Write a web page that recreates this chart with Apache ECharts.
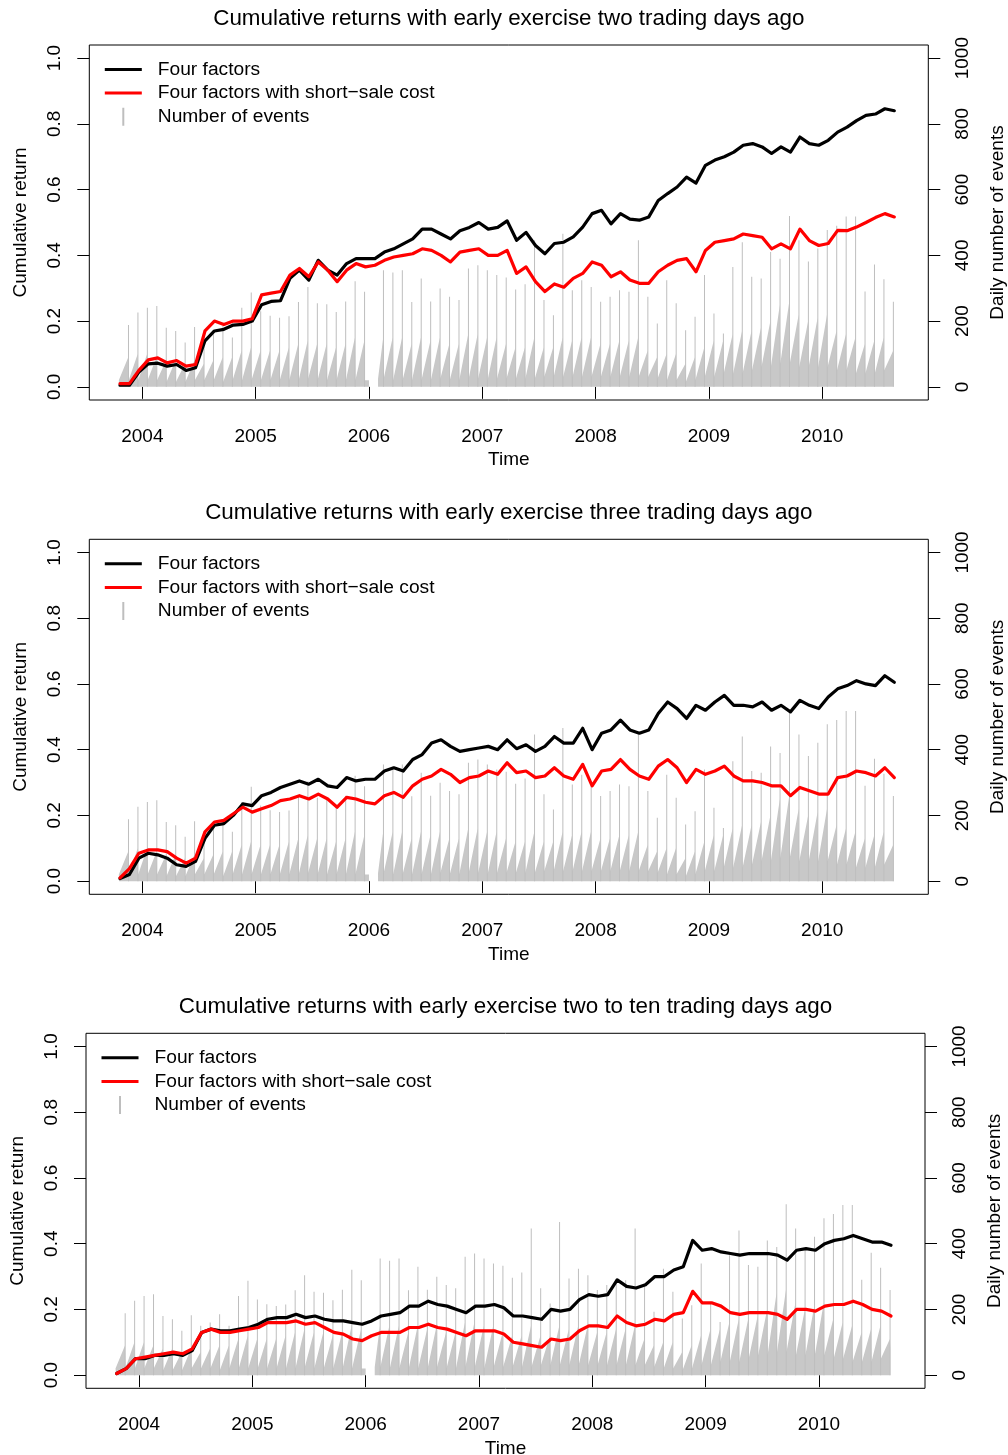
<!DOCTYPE html>
<html>
<head>
<meta charset="utf-8">
<title>Cumulative returns</title>
<script src="https://cdn.jsdelivr.net/npm/echarts@6.0.0/dist/echarts.min.js"></script>
<style>
  html, body { margin: 0; padding: 0; background: #fff; }
  #main { width: 1008px; height: 1455px; }
</style>
</head>
<body>
<div id="main"></div>
<script>
// one reading per month, Oct 2003 .. Aug 2010 (83 months)
var firstYear = 2003;
var firstMonth = 10;

var titles = [
  'Cumulative returns with early exercise two trading days ago',
  'Cumulative returns with early exercise three trading days ago',
  'Cumulative returns with early exercise two to ten trading days ago'
];

// "Four factors" / "with short-sale cost", early exercise two days ago
var fourTwo = [
  0.005, 0.005, 0.045, 0.07, 0.072, 0.063, 0.068, 0.05, 0.058, 0.14,
  0.17, 0.175, 0.188, 0.19, 0.2, 0.25, 0.26, 0.262, 0.33, 0.355,
  0.325, 0.385, 0.355, 0.34, 0.375, 0.39, 0.39, 0.39, 0.41, 0.42,
  0.435, 0.45, 0.48, 0.48, 0.465, 0.45, 0.475, 0.485, 0.5, 0.48,
  0.485, 0.505, 0.446, 0.47, 0.43, 0.405, 0.436, 0.44, 0.456, 0.486,
  0.527, 0.537, 0.496, 0.527, 0.51, 0.507, 0.517, 0.567, 0.588, 0.608,
  0.638, 0.62, 0.674, 0.69, 0.7, 0.714, 0.735, 0.74, 0.73, 0.71,
  0.73, 0.714, 0.76, 0.74, 0.735, 0.75, 0.775, 0.79, 0.81, 0.826,
  0.83, 0.846, 0.84
];
var costTwo = [
  0.01, 0.01, 0.05, 0.082, 0.088, 0.073, 0.08, 0.063, 0.068, 0.17,
  0.2, 0.19, 0.2, 0.2, 0.207, 0.28, 0.285, 0.29, 0.34, 0.36,
  0.335, 0.38, 0.355, 0.32, 0.355, 0.375, 0.365, 0.37, 0.385, 0.395,
  0.4, 0.405, 0.42, 0.415, 0.4, 0.38, 0.41, 0.415, 0.42, 0.4,
  0.4, 0.415, 0.345, 0.365, 0.32, 0.29, 0.313, 0.303, 0.33, 0.345,
  0.38, 0.37, 0.335, 0.35, 0.325, 0.315, 0.315, 0.35, 0.37, 0.385,
  0.39, 0.35, 0.415, 0.44, 0.445, 0.45, 0.465, 0.46, 0.455, 0.42,
  0.435, 0.42, 0.48, 0.445, 0.43, 0.436, 0.476, 0.475, 0.486, 0.5,
  0.515, 0.527, 0.517
];

// three days ago
var fourThree = [
  0.008, 0.02, 0.07, 0.085, 0.08, 0.07, 0.05, 0.045, 0.06, 0.13,
  0.17, 0.175, 0.2, 0.235, 0.23, 0.26, 0.27, 0.285, 0.295, 0.305,
  0.295, 0.31, 0.29, 0.285, 0.315, 0.305, 0.31, 0.31, 0.335, 0.345,
  0.335, 0.37, 0.385, 0.42, 0.43, 0.41, 0.395, 0.4, 0.405, 0.41,
  0.4, 0.43, 0.403, 0.415, 0.395, 0.41, 0.44, 0.42, 0.42, 0.465,
  0.4, 0.45, 0.46, 0.49, 0.46, 0.45, 0.46, 0.51, 0.545, 0.525,
  0.495, 0.535, 0.52, 0.545, 0.565, 0.535, 0.535, 0.53, 0.545, 0.52,
  0.535, 0.515, 0.55, 0.535, 0.525, 0.56, 0.585, 0.595, 0.61, 0.6,
  0.595, 0.625, 0.605
];
var costThree = [
  0.01, 0.038, 0.085, 0.095, 0.095, 0.09, 0.07, 0.055, 0.07, 0.15,
  0.18, 0.185, 0.205, 0.225, 0.21, 0.22, 0.23, 0.245, 0.25, 0.26,
  0.25, 0.265, 0.25, 0.225, 0.255, 0.25, 0.24, 0.235, 0.26, 0.27,
  0.255, 0.29, 0.31, 0.32, 0.34, 0.325, 0.3, 0.315, 0.32, 0.335,
  0.325, 0.36, 0.33, 0.335, 0.315, 0.32, 0.345, 0.32, 0.31, 0.355,
  0.29, 0.335, 0.34, 0.37, 0.34, 0.32, 0.31, 0.35, 0.37, 0.345,
  0.3, 0.34, 0.325, 0.335, 0.35, 0.32, 0.305, 0.305, 0.3, 0.29,
  0.29, 0.26, 0.285, 0.275, 0.265, 0.265, 0.315, 0.32, 0.335, 0.33,
  0.32, 0.345, 0.315
];

// two to ten days ago
var fourTen = [
  0.005, 0.02, 0.05, 0.05, 0.06, 0.06, 0.065, 0.06, 0.075, 0.13,
  0.14, 0.135, 0.135, 0.14, 0.145, 0.155, 0.17, 0.175, 0.175, 0.185,
  0.175, 0.18, 0.17, 0.165, 0.165, 0.16, 0.155, 0.165, 0.18, 0.185,
  0.19, 0.21, 0.21, 0.225, 0.215, 0.21, 0.2, 0.19, 0.21, 0.21,
  0.215, 0.205, 0.18, 0.18, 0.175, 0.17, 0.2, 0.195, 0.2, 0.23,
  0.245, 0.24, 0.245, 0.29, 0.27, 0.265, 0.275, 0.3, 0.3, 0.32,
  0.33, 0.41, 0.38, 0.385, 0.375, 0.37, 0.365, 0.37, 0.37, 0.37,
  0.365, 0.35, 0.38, 0.385, 0.38, 0.4, 0.41, 0.415, 0.425, 0.415,
  0.405, 0.405, 0.395
];
var costTen = [
  0.005, 0.02, 0.05, 0.055, 0.06, 0.065, 0.07, 0.065, 0.08, 0.13,
  0.14, 0.13, 0.13, 0.135, 0.14, 0.145, 0.16, 0.16, 0.16, 0.165,
  0.155, 0.16, 0.145, 0.13, 0.125, 0.11, 0.105, 0.12, 0.13, 0.13,
  0.13, 0.145, 0.145, 0.155, 0.145, 0.14, 0.13, 0.12, 0.135, 0.135,
  0.135, 0.125, 0.1, 0.095, 0.09, 0.085, 0.11, 0.105, 0.11, 0.135,
  0.15, 0.15, 0.145, 0.18, 0.16, 0.15, 0.155, 0.17, 0.165, 0.185,
  0.19, 0.255, 0.22, 0.22, 0.21, 0.19, 0.185, 0.19, 0.19, 0.19,
  0.185, 0.17, 0.2, 0.2, 0.195, 0.21, 0.215, 0.215, 0.225, 0.215,
  0.2, 0.195, 0.18
];

// daily number of events: monthly expiry spike, the level just before it, the level just after it
var eventPeak = [
  null, 188, 226, 241, 246, 180, 170, 135, 182, 150,
  160, 185, 150, 241, 287, 230, 216, 210, 215, 258,
  304, 254, 251, 228, 260, 321, 289, null, 355, 348,
  355, 258, 330, 260, 299, 274, 264, 360, 370, 355,
  340, 333, 296, 312, 446, 264, 218, 466, 294, 324,
  304, 259, 274, 294, 289, 446, 274, 193, 324, 254,
  172, 213, 340, 223, 162, 365, 440, 335, 330, 410,
  390, 520, 446, 381, 421, 477, 490, 518, 518, 290,
  372, 327, 259
];
var eventRamp = [
  20, 90, 100, 100, 90, 80, 80, 70, 80, 70,
  80, 90, 90, 110, 120, 110, 110, 110, 120, 130,
  140, 130, 130, 120, 130, 150, 140, null, 150, 150,
  150, 130, 150, 140, 150, 130, 130, 160, 160, 150,
  150, 130, 120, 120, 150, 120, 120, 150, 140, 150,
  150, 130, 130, 140, 140, 150, 110, 90, 100, 100,
  70, 90, 120, 140, 140, 160, 170, 170, 180, 200,
  250, 260, 220, 200, 210, 220, 170, 160, 150, 130,
  140, 150, 110
];
var eventBase = [
  20, 20, 20, 20, 20, 15, 15, 15, 20, 20,
  20, 15, 20, 20, 20, 20, 20, 20, 20, 20,
  25, 20, 20, 20, 20, 20, 20, 25, 25, 20,
  20, 20, 20, 20, 25, 20, 20, 25, 25, 20,
  25, 25, 25, 25, 25, 30, 30, 30, 30, 30,
  30, 30, 30, 30, 30, 30, 30, 25, 20, 20,
  15, 20, 30, 30, 40, 40, 40, 50, 60, 60,
  70, 70, 60, 60, 60, 60, 50, 50, 40, 40,
  40, 50, 80
];
var eventGap = [2006.0, 2006.08];

var yearTicks = [2004, 2005, 2006, 2007, 2008, 2009, 2010];
var returnTicks = [0, 0.2, 0.4, 0.6, 0.8, 1.0];
var countTicks = [0, 200, 400, 600, 800, 1000];

var FONT = 'Liberation Sans, Arial, Helvetica, sans-serif';
var FOUR = 'Four factors';
var COST = 'Four factors with short\u2212sale cost';
var EVENTS = 'Number of events';

function monthTime(i, day) {
  return firstYear + (firstMonth - 1 + i + (day - 1) / 30) / 12;
}

function lineData(values) {
  return values.map(function (v, i) { return [monthTime(i, 20), v]; });
}

var massData = [];
var spikeData = [];
for (var j = 0; j < eventPeak.length; j++) {
  var t = monthTime(j, 17);
  if (eventRamp[j] == null) {
    massData.push([eventGap[0], eventBase[j - 1]]);
    massData.push([(eventGap[0] + eventGap[1]) / 2, null]);
    massData.push([eventGap[1], eventBase[j]]);
  } else {
    massData.push([t - 0.002, eventRamp[j]]);
    massData.push([t + 0.002, eventBase[j]]);
  }
  if (eventPeak[j] != null) spikeData.push([t, eventPeak[j]]);
}

var panels = [
  { left: 89.3, top: 45, four: fourTwo, cost: costTwo },
  { left: 89.3, top: 539.3, four: fourThree, cost: costThree },
  { left: 86, top: 1033.3, four: fourTen, cost: costTen }
];
var boxW = 839, boxH = 355;

var lineIcon = 'path://M0,0L0.01,0Z M0,7.5L37,7.5L37,10.5L0,10.5Z M37,18L36.99,18Z';
var barIcon = 'path://M0,0L0.01,0Z M17.5,0L19.5,0L19.5,18L17.5,18Z M37,18L36.99,18Z';

var axisText = { fontSize: 19, color: '#000', fontFamily: FONT };
var tickStyle = { show: true, inside: false, length: 12, lineStyle: { color: '#000', width: 1 } };

var option = {
  animation: false,
  backgroundColor: '#fff',
  textStyle: { fontFamily: FONT },
  title: [],
  legend: [],
  grid: [],
  xAxis: [],
  yAxis: [],
  series: []
};

panels.forEach(function (p, k) {
  option.title.push({
    text: titles[k],
    left: p.left + boxW / 2,
    top: p.top - 37,
    textAlign: 'center',
    padding: 0,
    textStyle: { fontSize: 22.4, fontWeight: 'normal', color: '#000', fontFamily: FONT }
  });
  option.legend.push({
    orient: 'vertical',
    left: p.left + 15.5,
    top: p.top + 15,
    padding: 0,
    itemWidth: 37,
    itemHeight: 18,
    itemGap: 4.6,
    selectedMode: false,
    itemStyle: { borderWidth: 0 },
    textStyle: { fontSize: 19.2, lineHeight: 19, color: '#000', fontFamily: FONT, padding: [0, 0, 0, 11] },
    data: [
      { name: FOUR, icon: lineIcon },
      { name: COST, icon: lineIcon },
      { name: EVENTS, icon: barIcon }
    ]
  });
  option.grid.push({
    left: p.left, top: p.top, width: boxW, height: boxH,
    show: true, borderColor: '#000', borderWidth: 1,
    backgroundColor: 'rgba(0,0,0,0)', containLabel: false, outerBoundsMode: 'none'
  });
  option.xAxis.push({
    type: 'value', gridIndex: k, min: 2003.532, max: 2010.936,
    axisLine: { show: false }, splitLine: { show: false },
    axisTick: Object.assign({ customValues: yearTicks }, tickStyle),
    axisLabel: Object.assign({ customValues: yearTicks, margin: 27, formatter: function (v) { return String(v); } }, axisText),
    name: 'Time', nameLocation: 'middle', nameGap: 60,
    nameTextStyle: Object.assign({ verticalAlign: 'middle', align: 'center' }, axisText)
  });
  option.yAxis.push({
    type: 'value', gridIndex: k, position: 'left', min: -0.04, max: 1.04,
    axisLine: { show: false }, splitLine: { show: false },
    axisTick: Object.assign({ customValues: returnTicks }, tickStyle),
    axisLabel: Object.assign({
      customValues: returnTicks, rotate: 90, margin: 25, align: 'center', verticalAlign: 'bottom',
      formatter: function (v) { return v.toFixed(1); }
    }, axisText),
    name: 'Cumulative return', nameLocation: 'middle', nameRotate: 90, nameGap: 68.6,
    nameTextStyle: Object.assign({ verticalAlign: 'middle', align: 'center' }, axisText)
  });
  option.yAxis.push({
    type: 'value', gridIndex: k, position: 'right', min: -40, max: 1040,
    axisLine: { show: false }, splitLine: { show: false },
    axisTick: Object.assign({ customValues: countTicks }, tickStyle),
    axisLabel: Object.assign({
      customValues: countTicks, rotate: 90, margin: 25, align: 'center', verticalAlign: 'top',
      formatter: function (v) { return String(v); }
    }, axisText),
    name: 'Daily number of events', nameLocation: 'middle', nameRotate: 90, nameGap: 69.4,
    nameTextStyle: Object.assign({ verticalAlign: 'middle', align: 'center' }, axisText)
  });

  option.series.push({
    name: EVENTS, type: 'line', xAxisIndex: k, yAxisIndex: 2 * k + 1,
    data: massData, symbol: 'none', silent: true, z: 1,
    itemStyle: { color: '#bebebe' },
    lineStyle: { width: 0, opacity: 0 },
    areaStyle: { color: '#c8c8c8', opacity: 1 }
  });
  option.series.push({
    name: EVENTS, type: 'bar', xAxisIndex: k, yAxisIndex: 2 * k + 1,
    data: spikeData, barWidth: 1, silent: true, z: 1,
    itemStyle: { color: '#bebebe' }
  });
  option.series.push({
    name: FOUR, type: 'line', xAxisIndex: k, yAxisIndex: 2 * k,
    data: lineData(p.four), symbol: 'none', silent: true, z: 3,
    itemStyle: { color: '#000000' },
    lineStyle: { color: '#000000', width: 3.2, join: 'round', cap: 'round' }
  });
  option.series.push({
    name: COST, type: 'line', xAxisIndex: k, yAxisIndex: 2 * k,
    data: lineData(p.cost), symbol: 'none', silent: true, z: 4,
    itemStyle: { color: '#ff0000' },
    lineStyle: { color: '#ff0000', width: 3.2, join: 'round', cap: 'round' }
  });
});

var chart = echarts.init(document.getElementById('main'), null, { renderer: 'canvas', width: 1008, height: 1455 });
chart.setOption(option);
</script>
</body>
</html>
